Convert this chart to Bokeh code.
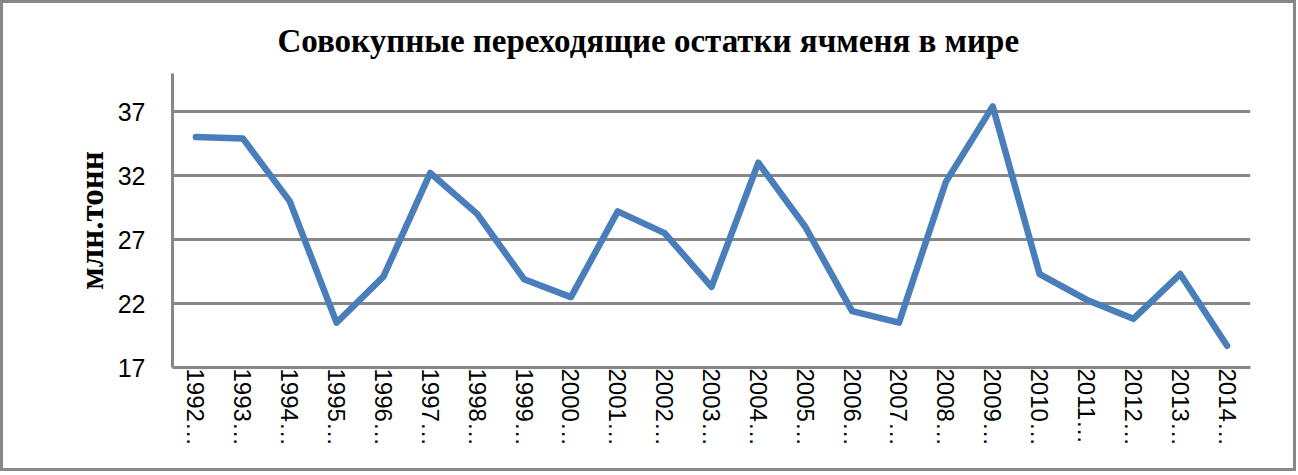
from bokeh.plotting import figure
from bokeh.models import FixedTicker, ColumnDataSource
from bokeh.embed import file_html
from bokeh.resources import INLINE

years = ["1992…", "1993…", "1994…", "1995…", "1996…", "1997…", "1998…", "1999…",
         "2000…", "2001…", "2002…", "2003…", "2004…", "2005…", "2006…", "2007…",
         "2008…", "2009…", "2010…", "2011…", "2012…", "2013…", "2014…"]
stocks = [35.0, 34.9, 30.0, 20.5, 24.1, 32.2, 29.0, 23.9, 22.5, 29.2, 27.5, 23.3,
          33.0, 28.0, 21.4, 20.5, 31.5, 37.4, 24.3, 22.3, 20.8, 24.3, 18.7]
y_ticks = [17, 22, 27, 32, 37]
title_text = "Совокупные переходящие остатки ячменя в мире"
y_label = "млн.тонн"

src = ColumnDataSource(dict(x=years, y=stocks))

p = figure(x_range=years, y_range=(17, 39.97), width=1296, height=471,
           output_backend="svg", toolbar_location=None,
           min_border_left=169, min_border_right=49, min_border_top=70, min_border_bottom=107)
p.styles = {"border": "3px solid #888888"}
p.outline_line_color = None
p.background_fill_color = "white"
p.border_fill_color = "white"

p.title.text = title_text
p.title.align = "left"
p.title.offset = 105
p.title.standoff = 30
p.title.text_font = "Liberation Serif"
p.title.text_font_style = "bold"
p.title.text_font_size = "33px"
p.title.text_color = "black"

p.line("x", "y", source=src, line_color="#4a7ebb", line_width=6.5,
       line_join="round", line_cap="round")

grid_color = "#878787"
p.xgrid.grid_line_color = None
p.ygrid.ticker = FixedTicker(ticks=y_ticks)
p.ygrid.grid_line_color = grid_color
p.ygrid.grid_line_width = 3

p.yaxis.ticker = FixedTicker(ticks=y_ticks)
p.yaxis.axis_line_color = grid_color
p.yaxis.axis_line_width = 3
p.yaxis.major_tick_line_color = None
p.yaxis.minor_tick_line_color = None
p.yaxis.major_label_standoff = 21
p.yaxis.major_label_text_font = "Liberation Sans"
p.yaxis.major_label_text_font_size = "25px"
p.yaxis.major_label_text_color = "black"
p.yaxis.axis_label = y_label
p.yaxis.axis_label_text_font = "Liberation Serif"
p.yaxis.axis_label_text_font_style = "bold"
p.yaxis.axis_label_text_font_size = "33px"
p.yaxis.axis_label_text_color = "black"
p.yaxis.axis_label_standoff = 5

p.xaxis.axis_line_color = grid_color
p.xaxis.axis_line_width = 3
p.xaxis.major_tick_line_color = None
p.xaxis.minor_tick_line_color = None
p.xaxis.major_label_orientation = "vertical"
p.xaxis.major_label_standoff = -5
p.xaxis.major_label_text_font = "Liberation Sans"
p.xaxis.major_label_text_font_size = "24px"
p.xaxis.major_label_text_color = "black"

open("out.html", "w").write(file_html(p, INLINE))
